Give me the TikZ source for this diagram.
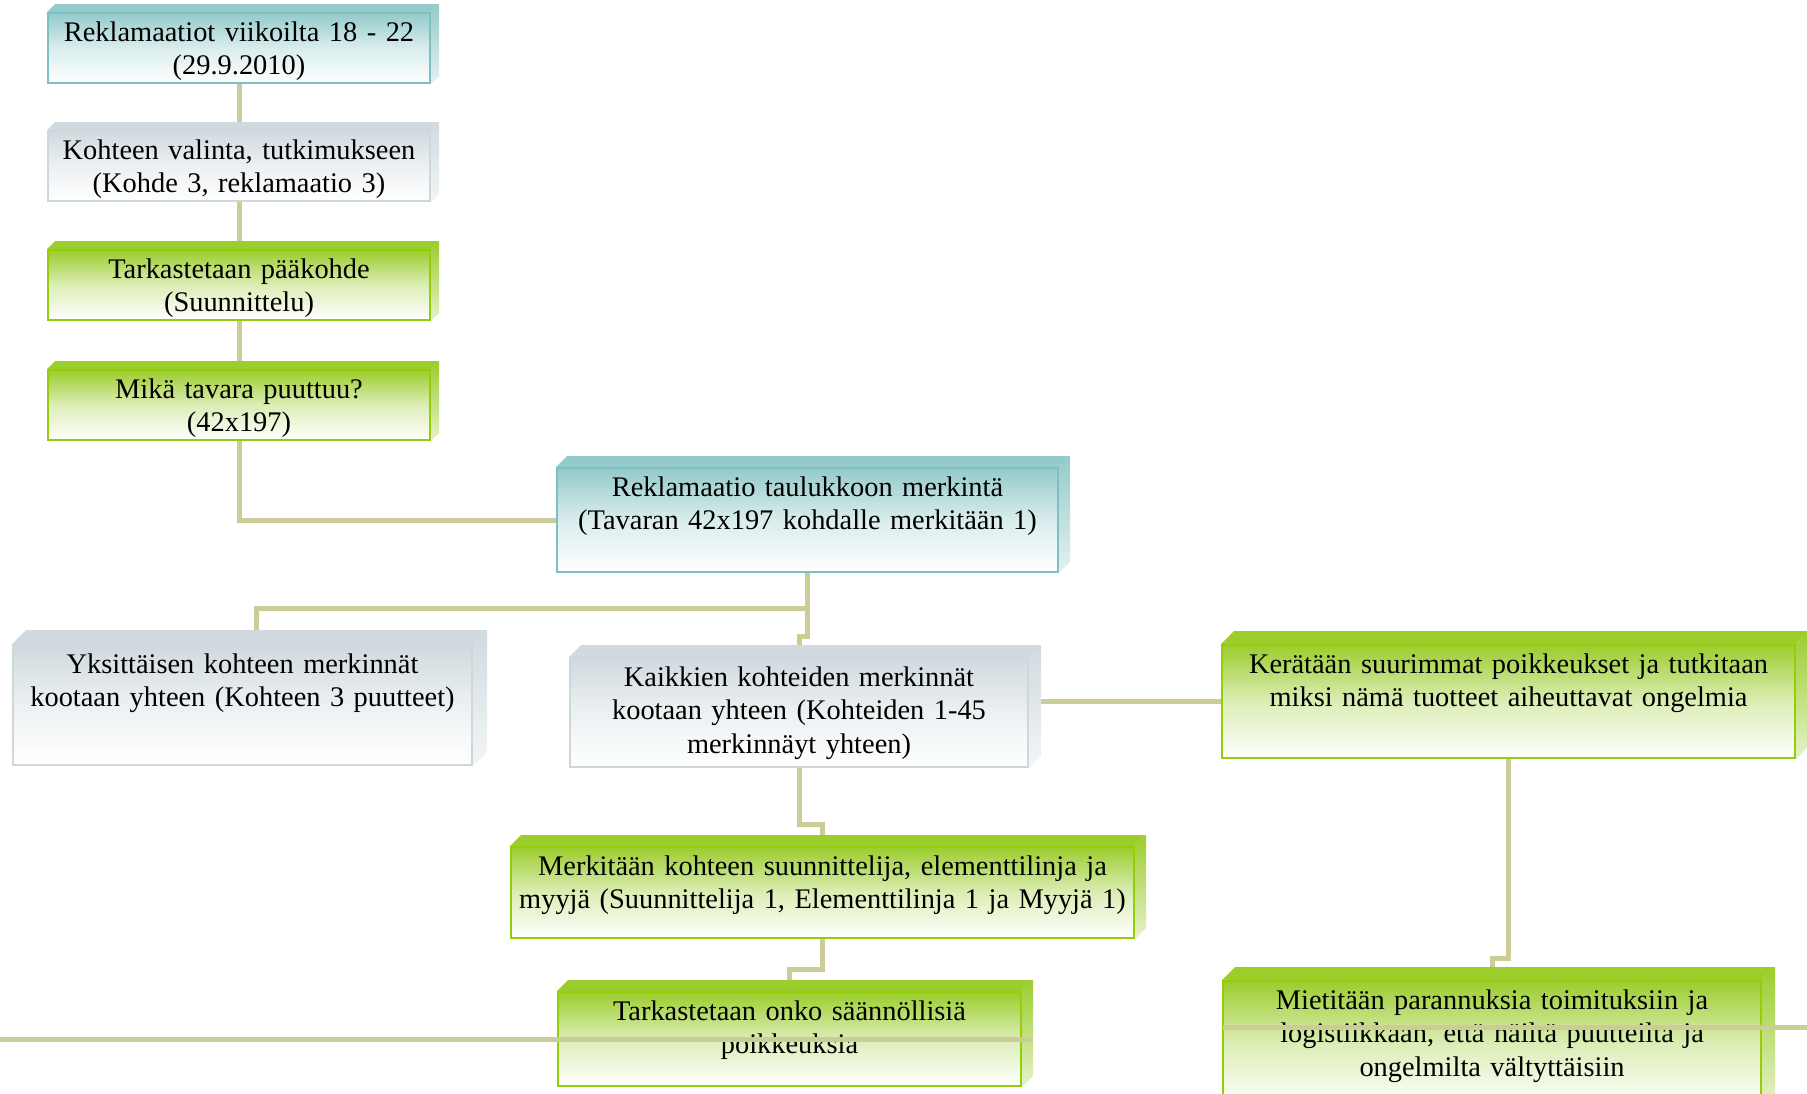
\documentclass[tikz,border=0pt]{standalone}
\usepackage{fontspec}
\setmainfont{Liberation Serif}
\usetikzlibrary{positioning, backgrounds}

\definecolor{tealtop}{RGB}{148,202,202}
\definecolor{tealline}{RGB}{125,192,192}
\definecolor{greytop}{RGB}{208,218,222}
\definecolor{greyline}{RGB}{205,215,220}
\definecolor{greentop}{RGB}{155,205,45}
\definecolor{greenline}{RGB}{150,205,10}
\definecolor{linkcol}{RGB}{204,204,153}

\newcommand{\boxfont}{\fontsize{14.2pt}{16.75pt}\selectfont}
% top and right faces of a box: node, depth, colour
\newcommand{\bevel}[3]{%
  \fill[#3] (#1.north west) -- ++(#2,#2) -- ([shift={(#2,#2)}]#1.north east) -- (#1.north east) -- cycle;
  \shade[top color=#3, bottom color=#3!25] (#1.north east) -- ++(#2,#2) -- ([shift={(#2,#2)}]#1.south east) -- (#1.south east) -- cycle;
}

\begin{document}
\begin{tikzpicture}[x=0.5pt, y=-0.5pt, link/.style={draw=linkcol, line width=2.5pt}]
    \tikzstyle{card}=[draw, line width=1pt, inner xsep=2pt, inner ysep=0pt, align=center, text height=14pt, font=\boxfont]
    \tikzstyle{teal card}=[card, draw=tealline, top color=tealtop, bottom color=white, middle color=tealtop!35]
    \tikzstyle{grey card}=[card, draw=greyline, top color=greytop, bottom color=white, middle color=greytop!40]
    \tikzstyle{green card}=[card, draw=greenline, top color=greentop, bottom color=white, middle color=greentop!35]

    \useasboundingbox (0,0) rectangle (1807,1093);
    \clip (0,0) rectangle (1807,1093);

    \node[teal card, text width=187pt, text depth=21pt] (s_1) at (239,48) {Reklamaatiot viikoilta 18 - 22\\(29.9.2010)};
    \node[grey card, text width=187pt, text depth=21pt] (s_2) [below=23pt of s_1] {Kohteen valinta, tutkimukseen\\(Kohde 3, reklamaatio 3)};
    \node[green card, text width=187pt, text depth=21pt] (s_3) [below=23.5pt of s_2] {Tarkastetaan pääkohde\\(Suunnittelu)};
    \node[green card, text width=187pt, text depth=21pt] (s_4) [below=24pt of s_3] {Mikä tavara puuttuu?\\(42x197)};

    \node[teal card, text width=246.5pt, text depth=38pt] (s_5) at (807.5,520) {Reklamaatio taulukkoon merkintä\\(Tavaran 42x197 kohdalle merkitään 1)};
    \node[grey card, text width=225pt, text depth=40.5pt] (s_6) at (799,712.5) {Kaikkien kohteiden merkinnät\\kootaan yhteen (Kohteiden 1-45\\merkinnäyt yhteen)};
    \node[grey card, text width=225.5pt, text depth=46pt] (s_7) at (242.5,705) {Yksittäisen kohteen merkinnät\\kootaan yhteen (Kohteen 3 puutteet)};
    \node[green card, text width=282.5pt, text depth=42.5pt] (s_8) at (1508.5,701.5) {Kerätään suurimmat poikkeukset ja tutkitaan\\miksi nämä tuotteet aiheuttavat ongelmia};
    \node[green card, text width=307.5pt, text depth=31.5pt] (s_9) at (822.5,892.5) {Merkitään kohteen suunnittelija, elementtilinja ja\\myyjä (Suunnittelija 1, Elementtilinja 1 ja Myyjä 1)};
    \node[green card, text width=227.5pt, text depth=33pt] (s_10) at (789.5,1039) {Tarkastetaan onko säännöllisiä\\poikkeuksia};
    \node[green card, text width=265pt, text depth=48.5pt] (s_11) at (1492,1043.5) {Mietitään parannuksia toimituksiin ja\\logistiikkaan, että näiltä puutteilta ja\\ongelmilta vältyttäisiin};

    \foreach \n/\d/\c in {s_1/4pt/tealtop, s_2/4pt/greytop, s_3/4pt/greentop, s_4/4pt/greentop,
        s_5/5.5pt/tealtop, s_6/6pt/greytop, s_7/7pt/greytop, s_8/6.5pt/greentop,
        s_9/5.5pt/greentop, s_10/5.5pt/greentop, s_11/6.5pt/greentop}
        {\bevel{\n}{\d}{\c}}

    \begin{scope}[on background layer]
    \path[link]
    (s_1) edge (s_2)
    (s_2) edge (s_3)
    (s_3) edge (s_4);
    \draw[link] (s_4.south) |- (s_5.west);
    \draw[link] (s_5.south) -- ++(0,63) -| (s_6.north);
    \draw[link] ([yshift=-17.5pt]s_5.south) -| ([xshift=7pt]s_7.north);
    \draw[link] (s_8.west) -- (s_8.west -| s_6.east);
    \draw[link] (s_6.south) -- ++(0,56) -| (s_9.north);
    \draw[link] (s_9.south) -- ++(0,30) -| (s_10.north);
    \draw[link] (s_8.south) -- ++(0,199) -| (s_11.north);
    \end{scope}

    % lines across the bottom boxes
    \coordinate (l_a) at (0,1039);
    \coordinate (l_b) at (1033,1039);
    \coordinate (l_c) at (1223,1027);
    \coordinate (l_d) at (1807,1027);
    \draw[link] (l_a) -- (l_b);
    \draw[link] (l_c) -- (l_d);
\end{tikzpicture}
\end{document}
